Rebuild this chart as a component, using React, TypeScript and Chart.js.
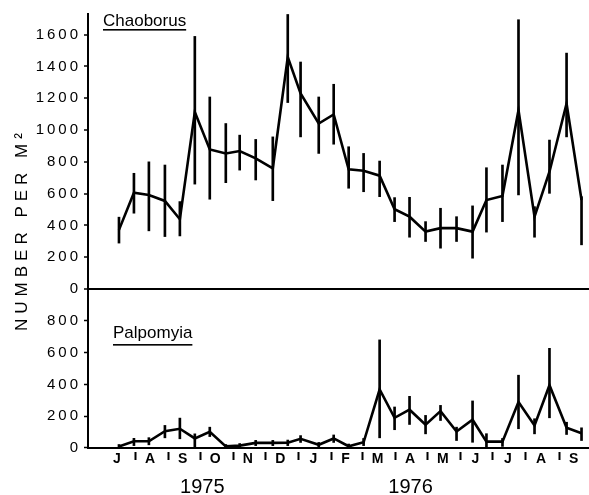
import React, { useEffect, useRef } from 'react';
import { Chart, registerables } from 'chart.js';

Chart.register(...registerables);

// Month axis (July 1975 - September 1976)
const monthLabels = ['J', 'A', 'S', 'O', 'N', 'D', 'J', 'F', 'M', 'A', 'M', 'J', 'J', 'A', 'S'];
const monthLengths = [31, 31, 30, 31, 30, 31, 31, 29, 31, 30, 31, 30, 31, 31, 30];
const yearLabels = ['1975', '1976'];
const yearCenterDays = [94, 289];

// Sampling dates, days since 1 July 1975
const sampleDays = [16, 30, 44, 59, 73, 87, 101, 116, 129, 144, 160, 174, 186, 203, 217, 231, 245, 260, 274, 288, 303, 317, 332, 347, 360, 375, 390, 405, 419, 435, 449];

// Chaoborus (number per m2)
const chaoborusMean = [372, 606, 592, 554, 439, 1114, 878, 853, 868, 822, 759, 1459, 1230, 1041, 1098, 753, 744, 713, 502, 455, 361, 383, 383, 361, 560, 585, 1125, 455, 738, 1167, 560];
const chaoborusLow = [289, 477, 366, 330, 334, 660, 565, 669, 748, 686, 556, 1173, 957, 853, 911, 634, 612, 581, 424, 326, 299, 257, 299, 194, 358, 424, 592, 326, 602, 957, 278];
const chaoborusHigh = [452, 728, 800, 780, 550, 1589, 1208, 1041, 968, 941, 957, 1727, 1428, 1208, 1288, 895, 853, 805, 575, 577, 424, 508, 455, 523, 763, 780, 1694, 518, 937, 1484, 581];

// Palpomyia (number per m2)
const palpomyiaMean = [10, 42, 42, 106, 121, 60, 102, 10, 15, 32, 32, 33, 58, 20, 60, 11, 36, 368, 190, 241, 146, 232, 104, 178, 40, 40, 289, 142, 395, 127, 93];
const palpomyiaLow = [0, 15, 20, 64, 58, 5, 72, 0, 5, 15, 15, 15, 35, 8, 35, 0, 15, 64, 115, 148, 89, 173, 47, 36, 5, 10, 121, 89, 190, 85, 47];
const palpomyiaHigh = [22, 61, 65, 142, 188, 89, 131, 22, 28, 48, 48, 50, 78, 35, 82, 25, 60, 680, 258, 325, 205, 268, 131, 296, 90, 60, 458, 184, 627, 162, 127];

const topTicks = [0, 200, 400, 600, 800, 1000, 1200, 1400, 1600];
const bottomTicks = [0, 200, 400, 600, 800];

const yTitle = 'NUMBER PER M²';
const topPanelLabel = 'Chaoborus';
const bottomPanelLabel = 'Palpomyia';

export default function App() {
  const ref = useRef<HTMLCanvasElement>(null);

  useEffect(() => {
    const canvas = ref.current;
    if (!canvas) return;

    const monthStarts: number[] = [0];
    monthLengths.forEach((len, i) => monthStarts.push(monthStarts[i] + len));
    const tickLabel = new Map<number, string>();
    const xTickValues: number[] = [];
    for (let i = 0; i < monthLabels.length; i++) {
      const mid = (monthStarts[i] + monthStarts[i + 1]) / 2;
      tickLabel.set(mid, monthLabels[i]);
      xTickValues.push(mid);
      if (i > 0) {
        tickLabel.set(monthStarts[i], '');
        xTickValues.push(monthStarts[i]);
      }
    }
    xTickValues.sort((a, b) => a - b);
    const boundaries = new Set(monthStarts.slice(1, monthLabels.length));

    const font = '"Liberation Sans", Arial, sans-serif';

    const textPlugin = {
      id: 'texts',
      beforeDraw(chart: any) {
        (chart.ctx as any).letterSpacing = '3px';
      },
      afterDraw(chart: any) {
        const ctx = chart.ctx as any;
        const area = chart.chartArea;
        const yBot = chart.scales.yBot;
        const xs = chart.scales.x;
        ctx.save();
        ctx.fillStyle = '#000';
        // y title
        ctx.letterSpacing = '5px';
        ctx.font = `17px ${font}`;
        ctx.translate(22, 232);
        ctx.rotate(-Math.PI / 2);
        ctx.textAlign = 'center';
        ctx.textBaseline = 'middle';
        ctx.fillText(yTitle, 2.5, 0);
        ctx.restore();

        ctx.save();
        ctx.fillStyle = '#000';
        ctx.letterSpacing = '0px';
        ctx.font = `17px ${font}`;
        ctx.textAlign = 'left';
        ctx.textBaseline = 'alphabetic';
        const cx = area.left + 15;
        const cy = area.top + 12;
        ctx.fillText(topPanelLabel, cx, cy);
        const cw = ctx.measureText(topPanelLabel).width;
        ctx.fillRect(cx, cy + 3, cw, 1.6);

        const px = area.left + 25;
        const py = yBot.getPixelForValue(1000) + 49;
        ctx.fillText(bottomPanelLabel, px, py);
        const pw = ctx.measureText(bottomPanelLabel).width;
        ctx.fillRect(px, py + 6, pw, 1.6);

        ctx.font = `20px ${font}`;
        ctx.textAlign = 'center';
        yearLabels.forEach((lab, i) => {
          ctx.fillText(lab, xs.getPixelForValue(yearCenterDays[i]), 493);
        });
        ctx.restore();
        ctx.letterSpacing = '0px';
      },
    };

    const yTickOpts = {
      autoSkip: false,
      padding: 3,
      color: '#000',
      font: { family: font, size: 15 },
      callback: (v: any) => String(v),
    };

    const chart = new Chart(canvas, {
      type: 'line',
      data: {
        datasets: [
          {
            type: 'line',
            data: sampleDays.map((d, i) => ({ x: d, y: chaoborusMean[i] })),
            yAxisID: 'yTop',
            borderColor: '#000',
            borderWidth: 2.6,
            pointRadius: 0,
            tension: 0,
            fill: false,
            order: 1,
          },
          {
            type: 'bar',
            data: sampleDays.map((d, i) => ({ x: d, y: [chaoborusLow[i], chaoborusHigh[i]] })),
            yAxisID: 'yTop',
            backgroundColor: '#000',
            barThickness: 2,
            grouped: false,
            borderWidth: 0,
            order: 2,
          },
          {
            type: 'line',
            data: sampleDays.map((d, i) => ({ x: d, y: palpomyiaMean[i] })),
            yAxisID: 'yBot',
            borderColor: '#000',
            borderWidth: 2.6,
            pointRadius: 0,
            tension: 0,
            fill: false,
            order: 1,
          },
          {
            type: 'bar',
            data: sampleDays.map((d, i) => ({ x: d, y: [palpomyiaLow[i], palpomyiaHigh[i]] })),
            yAxisID: 'yBot',
            backgroundColor: '#000',
            barThickness: 2,
            grouped: false,
            borderWidth: 0,
            order: 2,
          },
        ] as any,
      },
      options: {
        animation: false,
        responsive: false,
        events: [],
        layout: { padding: { top: 14, right: 0, left: 0, bottom: 0 } },
        plugins: { legend: { display: false }, tooltip: { enabled: false } },
        scales: {
          x: {
            type: 'linear',
            min: -13,
            max: 456,
            offset: false,
            afterBuildTicks: (s: any) => {
              s.ticks = xTickValues.map((v) => ({ value: v }));
            },
            afterFit: (s: any) => {
              s.height = 47;
            },
            ticks: {
              autoSkip: false,
              maxRotation: 0,
              padding: -9.5,
              color: '#000',
              font: { family: font, size: 14, weight: 'bold' },
              callback: (v: any) => tickLabel.get(Number(v)) ?? '',
            },
            grid: {
              offset: false,
              drawOnChartArea: false,
              drawTicks: true,
              tickLength: 12,
              tickWidth: 2,
              tickBorderDash: [0, 3, 8, 100],
              tickColor: (c: any) => (c.tick && boundaries.has(c.tick.value) ? '#000' : 'rgba(0,0,0,0)'),
            },
            border: { display: true, color: '#000', width: 2 },
          },
          yBot: {
            type: 'linear',
            position: 'left',
            stack: 'panels',
            stackWeight: 1,
            min: 0,
            max: 1000,
            afterBuildTicks: (s: any) => {
              s.ticks = bottomTicks.map((v) => ({ value: v }));
            },
            afterFit: (s: any) => {
              s.width = 88;
            },
            ticks: yTickOpts,
            grid: {
              drawOnChartArea: false,
              tickLength: 4,
              tickWidth: 1.5,
              tickColor: '#000',
            },
            border: { display: true, color: '#000', width: 2 },
          },
          yTop: {
            type: 'linear',
            position: 'left',
            stack: 'panels',
            stackWeight: 1.73,
            min: 0,
            max: 1730,
            afterBuildTicks: (s: any) => {
              s.ticks = topTicks.map((v) => ({ value: v }));
            },
            afterFit: (s: any) => {
              s.width = 88;
            },
            ticks: yTickOpts,
            grid: {
              drawOnChartArea: true,
              color: (c: any) => (c.tick && c.tick.value === 0 ? '#000' : 'rgba(0,0,0,0)'),
              lineWidth: 2,
              tickLength: 4,
              tickWidth: 1.5,
              tickColor: '#000',
            },
            border: { display: true, color: '#000', width: 2 },
          },
        },
      } as any,
      plugins: [textPlugin],
    });

    return () => chart.destroy();
  }, []);

  return (
    <div style={{ position: 'fixed', left: 0, top: 0, width: 589, height: 495, background: '#fff' }}>
      <canvas ref={ref} width={589} height={495} style={{ width: 589, height: 495, display: 'block' }} />
    </div>
  );
}
